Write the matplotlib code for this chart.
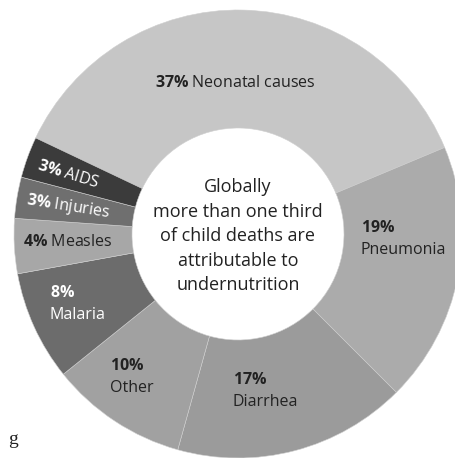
import matplotlib
matplotlib.use("Agg")
import matplotlib.pyplot as plt

causes = ["Neonatal causes", "Pneumonia", "Diarrhea", "Other", "Malaria", "Measles", "Injuries", "AIDS"]
shares = [37, 19, 17, 10, 8, 4, 3, 3]
pct_labels = ["37%", "19%", "17%", "10%", "8%", "4%", "3%", "3%"]
colors = ["#c6c6c6", "#ababab", "#9b9b9b", "#a1a1a1", "#6c6c6c", "#a7a7a7", "#6f6f6f", "#3b3b3b"]
center_lines = ["Globally", "more than one third", "of child deaths are", "attributable to", "undernutrition"]

plt.rcParams['font.family'] = ['Open Sans', 'DejaVu Sans']
plt.rcParams['mathtext.fontset'] = 'custom'
plt.rcParams['mathtext.rm'] = 'Open Sans'
plt.rcParams['mathtext.bf'] = 'Open Sans:bold'

W, H = 456, 458
fig = plt.figure(figsize=(W / 100, H / 100), dpi=100)
ax = fig.add_axes([0, 0, 1, 1])

cx, cy, r = 238, H - 234, 224
ax.pie(shares, colors=colors, startangle=154.6, counterclock=False,
       center=(cx, cy), radius=r, frame=True,
       wedgeprops=dict(width=r - 106, edgecolor='#cfcfcf', linewidth=0.4))
ax.set_xlim(0, W)
ax.set_ylim(0, H)
ax.axis('off')

for i, line in enumerate(center_lines):
    ax.text(cx, H - (187 + i * 24.5), line, ha='center', va='center', fontsize=13, color='#222222')

# label placement in pixels from top-left: x, y, text colour, rotation, name on second line
layout = {
    "Neonatal causes": (155, 83, '#222222', 0, False),
    "Pneumonia": (361, 228, '#222222', 0, True),
    "Diarrhea": (233, 380, '#222222', 0, True),
    "Other": (110, 366, '#222222', 0, True),
    "Malaria": (50, 293, '#ffffff', 0, True),
    "Measles": (23, 242, '#222222', 0, False),
    "Injuries": (27, 200, '#ffffff', -9, False),
    "AIDS": (38, 165, '#ffffff', -17, False),
}
for name, pct in zip(causes, pct_labels):
    x, y, col, rot, stacked = layout[name]
    bold = r"$\mathbf{" + pct.replace('%', r'\%') + "}$"
    if stacked:
        ax.text(x, H - y, bold, ha='left', va='center', fontsize=11.5, color=col)
        ax.text(x, H - y - 22, name, ha='left', va='center', fontsize=11.5, color=col)
    else:
        ax.text(x, H - y, bold + " " + name, ha='left', va='center', fontsize=11.5,
                color=col, rotation=rot, rotation_mode='anchor')

ax.text(8, H - 440, "g", ha='left', va='center', fontsize=14, color='#222222',
        family='Liberation Serif')

fig.savefig("out.png", dpi=100)
